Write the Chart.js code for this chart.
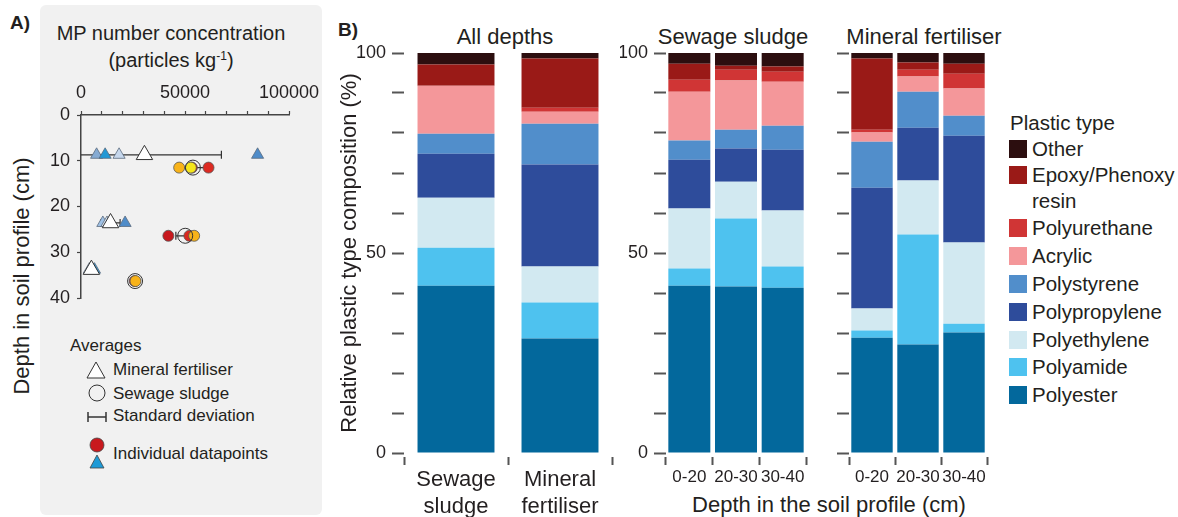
<!DOCTYPE html>
<html>
<head>
<meta charset="utf-8">
<script src="https://cdn.jsdelivr.net/npm/chart.js@4.4.0/dist/chart.umd.min.js"></script>
<style>
body { margin:0; width:1178px; height:517px; overflow:hidden; background:#fff; font-family:"Liberation Sans", Arial, sans-serif; color:#231f20; position:relative; }
.t { position:absolute; white-space:nowrap; line-height:1; }
.c { transform:translate(-50%,-50%); }
.l { transform:translateY(-50%); }
#panelA { position:absolute; left:40px; top:5px; width:282px; height:510px; background:#f1f1f1; border-radius:6px; }
canvas { position:absolute; }
.sw { position:absolute; left:1009px; width:18px; height:18px; }
</style>
</head>
<body>
<div id="panelA"></div>
<div class="t" style="left:10px;top:13px;font-size:19px;font-weight:bold;">A)</div>
<div class="t" style="left:338px;top:20px;font-size:19px;font-weight:bold;">B)</div>

<div class="t c" style="left:171px;top:33px;font-size:20px;">MP number concentration</div>
<div class="t c" style="left:171px;top:60px;font-size:20px;">(particles kg<sup style="font-size:12px;">-1</sup>)</div>
<div class="t c" style="left:22px;top:276px;font-size:22px;transform:translate(-50%,-50%) rotate(-90deg);">Depth in soil profile (cm)</div>

<canvas id="chartA" width="280" height="250" style="left:40px;top:60px;"></canvas>

<svg style="position:absolute;left:80px;top:355px;" width="32" height="120">
  <polygon points="16,7 25,23 7,23" fill="#fff" stroke="#333" stroke-width="1"/>
  <circle cx="17" cy="38" r="8" fill="none" stroke="#333" stroke-width="1"/>
  <line x1="8" y1="62" x2="26" y2="62" stroke="#333" stroke-width="1.5"/>
  <line x1="8" y1="57" x2="8" y2="67" stroke="#333" stroke-width="1.5"/>
  <line x1="26" y1="57" x2="26" y2="67" stroke="#333" stroke-width="1.5"/>
  <circle cx="17" cy="90" r="7" fill="#c8191e" stroke="#444" stroke-width="0.8"/>
  <polygon points="17,100 24,113 10,113" fill="#1e9ad6" stroke="#444" stroke-width="0.8"/>
</svg>
<div class="t l" style="left:70px;top:345px;font-size:17px;">Averages</div>
<div class="t l" style="left:113px;top:369px;font-size:17px;">Mineral fertiliser</div>
<div class="t l" style="left:113px;top:393px;font-size:17px;">Sewage sludge</div>
<div class="t l" style="left:113px;top:415px;font-size:17px;">Standard deviation</div>
<div class="t l" style="left:113px;top:453px;font-size:17px;">Individual datapoints</div>

<div class="t c" style="left:505px;top:37px;font-size:22px;">All depths</div>
<div class="t c" style="left:733px;top:37px;font-size:22px;">Sewage sludge</div>
<div class="t c" style="left:924px;top:37px;font-size:22px;">Mineral fertiliser</div>
<div class="t c" style="left:829px;top:505px;font-size:22px;">Depth in the soil profile (cm)</div>

<canvas id="chartB1" width="290" height="477" style="left:330px;top:40px;"></canvas>
<canvas id="chartB2" width="200" height="477" style="left:620px;top:40px;"></canvas>
<canvas id="chartB3" width="180" height="477" style="left:820px;top:40px;"></canvas>

<div id="legendB"></div>

<script>
// Panel A: MP number concentration vs depth
const mfX = [7500, 11600, 18300, 84900, 10500, 12500, 21200, 4000, 5500, 6500];
const mfDepth = [8.7, 8.7, 8.7, 8.7, 23.6, 23.6, 23.6, 33.8, 33.8, 33.8];
const mfMean = [30500, 14200, 5000];
const mfMeanDepth = [8.7, 23.6, 33.8];
const mfSd = [37000, 4600, 1000];

const ssX = [47200, 53300, 52800, 61300, 42000, 52100, 54400, 25800, 26200];
const ssDepth = [11.5, 11.5, 11.5, 11.5, 26.4, 26.4, 26.4, 36.3, 36.3];
const ssMean = [53800, 50100, 26000];
const ssMeanDepth = [11.5, 26.4, 36.3];
const ssSd = [6000, 4500, 600];

const mfColors = ['#86abd3', '#2298d5', '#c6d7ec', '#4f8cc9', '#9fc1e5', '#dce6f3', '#4f8cc9', '#dce6f3', '#9fc1e5', '#3e9bd6'];
const ssColors = ['#f8b31a', '#c0161b', '#f5e61b', '#dc2a22', '#c8191e', '#d8281f', '#f8b31a', '#c8191e', '#f8b31a'];

// Panel B: relative plastic type composition (%), bottom to top
const plasticTypes = ['Polyester', 'Polyamide', 'Polyethylene', 'Polypropylene', 'Polystyrene', 'Acrylic', 'Polyurethane', 'Epoxy/Phenoxy resin', 'Other'];
const allDepthsLabels = [['Sewage', 'sludge'], ['Mineral', 'fertiliser']];
const depthLabels = ['0-20', '20-30', '30-40'];

const allSewage   = [41.8, 9.5, 12.5, 11.0, 5.0, 12.0, 0.0, 5.3, 2.9];
const allMineral  = [28.6, 9.0, 9.0, 25.5, 10.2, 3.0, 1.0, 12.3, 1.4];
const sewage0020  = [41.8, 4.3, 15.0, 12.2, 4.8, 12.2, 3.0, 4.0, 2.7];
const sewage2030  = [41.6, 17.0, 9.2, 8.3, 4.7, 12.3, 2.7, 1.0, 3.2];
const sewage3040  = [41.3, 5.3, 14.0, 15.2, 6.0, 11.0, 2.5, 1.3, 3.4];
const mineral0020 = [28.8, 1.8, 5.5, 30.2, 11.5, 2.3, 0.7, 17.8, 1.4];
const mineral2030 = [27.1, 27.5, 13.5, 13.2, 9.0, 3.8, 1.7, 1.8, 2.4];
const mineral3040 = [30.1, 2.2, 20.3, 26.7, 5.0, 6.8, 3.7, 2.5, 2.7];

const typeColors = ['#03689c', '#4ec2ef', '#d2e9f1', '#2e4c9b', '#518ecb', '#f4979a', '#d03535', '#9a1a17', '#2c0e0f'];

Chart.defaults.font.family = '"Liberation Sans", Arial, sans-serif';
Chart.defaults.color = '#231f20';
Chart.defaults.animation = false;

function toPoints(xs, ys) {
    return xs.map((x, i) => ({x: x, y: ys[i]}));
}

// fixed axis box sizes, no extra label overflow padding
function fixWidth(w) {
    return s => { s.width = w; s.paddingTop = 0; s.paddingBottom = 0; };
}
function fixHeight(h) {
    return s => { s.height = h; s.paddingLeft = 0; s.paddingRight = 0; };
}

const errorBars = {
    id: 'errorBars',
    beforeDatasetsDraw(chart) {
        const ctx = chart.ctx;
        const xs = chart.scales.x, ys = chart.scales.y;
        const a = chart.chartArea;
        ctx.save();
        ctx.beginPath();
        ctx.rect(a.left, a.top - 10, a.right - a.left + 40, a.bottom - a.top + 20);
        ctx.clip();
        ctx.strokeStyle = '#333';
        ctx.lineWidth = 1.2;
        const draw = (means, depths, sds) => {
            means.forEach((m, i) => {
                const y = ys.getPixelForValue(depths[i]);
                const x1 = Math.max(xs.getPixelForValue(m - sds[i]), a.left - 1);
                const x2 = xs.getPixelForValue(m + sds[i]);
                ctx.beginPath();
                ctx.moveTo(x1, y); ctx.lineTo(x2, y);
                if (m - sds[i] > 0) { ctx.moveTo(x1, y - 4); ctx.lineTo(x1, y + 4); }
                ctx.moveTo(x2, y - 4); ctx.lineTo(x2, y + 4);
                ctx.stroke();
            });
        };
        draw(mfMean, mfMeanDepth, mfSd);
        draw(ssMean, ssMeanDepth, ssSd);
        ctx.restore();
    }
};

new Chart(document.getElementById('chartA'), {
    type: 'scatter',
    data: {
        datasets: [
            {
                data: toPoints(ssMean, ssMeanDepth),
                pointStyle: 'circle', pointRadius: 7.5,
                backgroundColor: 'rgba(0,0,0,0)', borderColor: '#333', borderWidth: 1, order: 0
            },
            {
                data: toPoints(mfMean, mfMeanDepth),
                pointStyle: 'triangle', pointRadius: 9.5,
                backgroundColor: '#fff', borderColor: '#333', borderWidth: 1, order: 1
            },
            {
                data: toPoints(ssX, ssDepth),
                pointStyle: 'circle', pointRadius: 5.5,
                backgroundColor: ssColors, borderColor: '#555', borderWidth: 0.8, order: 2
            },
            {
                data: toPoints(mfX, mfDepth),
                pointStyle: 'triangle', pointRadius: 7,
                backgroundColor: mfColors, borderColor: '#5a6b7d', borderWidth: 0.8, order: 3
            }
        ]
    },
    options: {
        responsive: false,
        layout: { padding: { top: 0, right: 31, bottom: 12, left: 0 } },
        scales: {
            x: {
                type: 'linear', position: 'top', min: 0, max: 100000,
                border: { display: true, color: '#444', width: 1.5 },
                grid: { drawOnChartArea: false, tickLength: 4, tickColor: '#444', tickWidth: 1.2 },
                ticks: {
                    stepSize: 10000, autoSkip: false, maxRotation: 0, padding: 7,
                    font: { size: 18 }, color: '#231f20',
                    callback: v => (v % 50000 === 0 ? String(v) : '')
                },
                afterFit: fixHeight(55)
            },
            y: {
                type: 'linear', reverse: true, min: 0, max: 40,
                border: { display: true, color: '#444', width: 1.5 },
                grid: { drawOnChartArea: false, tickLength: 4, tickColor: '#444', tickWidth: 1.2 },
                ticks: { stepSize: 10, padding: 7, font: { size: 18 }, color: '#231f20' },
                afterFit: fixWidth(41)
            }
        },
        plugins: { legend: { display: false }, tooltip: { enabled: false } }
    },
    plugins: [errorBars]
});

function barDatasets(bars, pct) {
    return plasticTypes.map((name, i) => ({
        label: name,
        data: bars.map(b => b[i]),
        backgroundColor: typeColors[i],
        borderWidth: 0,
        barPercentage: pct,
        categoryPercentage: 1
    }));
}

function barOptions(yWidth, padRight, showLabels, xFontSize, showTitle) {
    return {
        responsive: false,
        layout: { padding: { top: 13, right: padRight, bottom: 0, left: 0 } },
        scales: {
            x: {
                stacked: true,
                border: { display: false },
                grid: {
                    drawOnChartArea: false, tickLength: 12, tickColor: '#555', tickWidth: 2,
                    tickBorderDash: [0, 4, 8, 0]
                },
                ticks: { autoSkip: false, padding: 2, maxRotation: 0, font: { size: xFontSize, lineHeight: 1.22 }, color: '#231f20' },
                afterFit: fixHeight(64)
            },
            y: {
                stacked: true, min: 0, max: 100,
                border: { display: false },
                grid: { drawOnChartArea: false, tickLength: 12, tickColor: '#555', tickWidth: 2 },
                ticks: {
                    stepSize: 10, padding: 6, font: { size: 18 }, color: '#231f20',
                    callback: v => (showLabels && v % 50 === 0 ? String(v) : '')
                },
                title: {
                    display: showTitle, text: 'Relative plastic type composition (%)',
                    font: { size: 22 }, color: '#231f20', padding: { top: 7, bottom: 0 }
                },
                afterFit: fixWidth(yWidth)
            }
        },
        plugins: { legend: { display: false }, tooltip: { enabled: false } }
    };
}

new Chart(document.getElementById('chartB1'), {
    type: 'bar',
    data: { labels: allDepthsLabels, datasets: barDatasets([allSewage, allMineral], 0.74) },
    options: barOptions(74, 8, true, 22, true)
});

new Chart(document.getElementById('chartB2'), {
    type: 'bar',
    data: { labels: depthLabels, datasets: barDatasets([sewage0020, sewage2030, sewage3040], 0.9) },
    options: barOptions(46, 14, true, 17, false)
});

new Chart(document.getElementById('chartB3'), {
    type: 'bar',
    data: { labels: depthLabels, datasets: barDatasets([mineral0020, mineral2030, mineral3040], 0.9) },
    options: barOptions(29, 13, false, 17, false)
});

// legend for panel B, top to bottom
const legendB = document.getElementById('legendB');
let html = '<div class="t l" style="left:1010px;top:123px;font-size:20.5px;">Plastic type</div>';
const legendY = [149, 175, 228, 256, 284, 312, 340, 367, 395];
for (let k = 0; k < plasticTypes.length; k++) {
    const i = plasticTypes.length - 1 - k;
    const y = legendY[k];
    html += '<div class="sw" style="top:' + (y - 9) + 'px;background:' + typeColors[i] + ';"></div>';
    if (plasticTypes[i] === 'Epoxy/Phenoxy resin') {
        html += '<div class="t l" style="left:1032px;top:' + y + 'px;font-size:20.5px;">Epoxy/Phenoxy</div>';
        html += '<div class="t l" style="left:1032px;top:' + (y + 26) + 'px;font-size:20.5px;">resin</div>';
    } else {
        html += '<div class="t l" style="left:1032px;top:' + y + 'px;font-size:20.5px;">' + plasticTypes[i] + '</div>';
    }
}
legendB.innerHTML = html;
</script>
</body>
</html>
